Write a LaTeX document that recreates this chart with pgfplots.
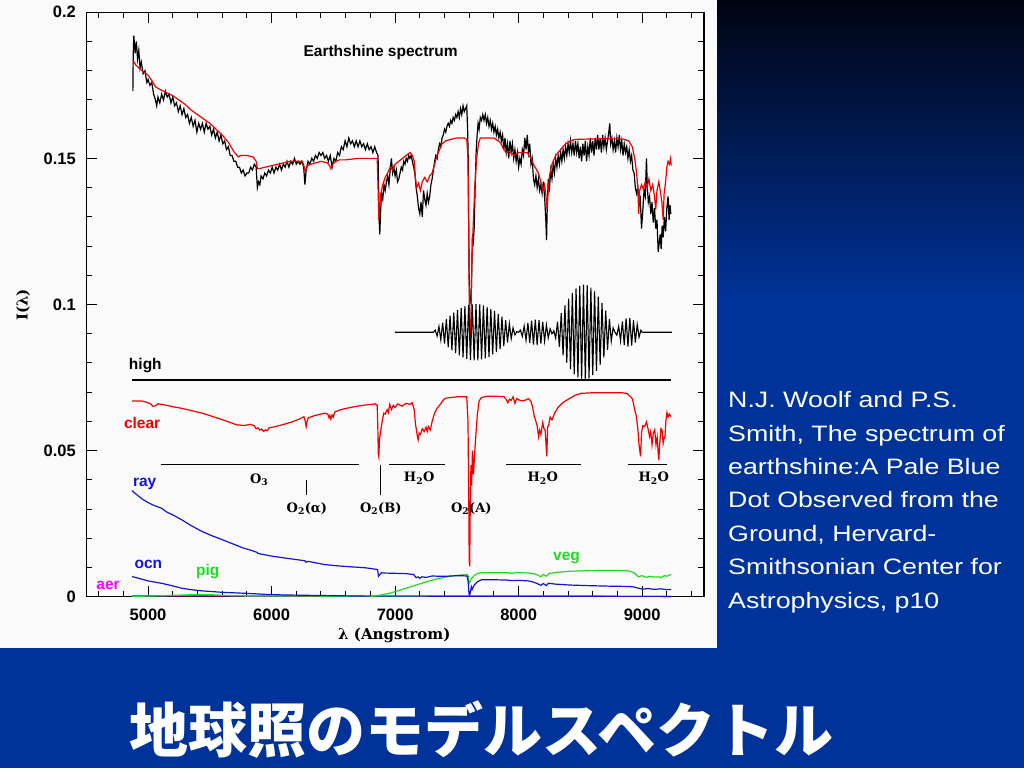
\documentclass[border=0pt]{standalone}
\usepackage{fontspec}
\usepackage{pgfplots}
\pgfplotsset{compat=1.18}
\setmainfont{Liberation Sans}
\newfontfamily\rs{Liberation Sans}[FakeStretch=1.2]
\newfontfamily\pg{DejaVu Serif}
\newfontfamily\jp{Noto Sans CJK JP}
\definecolor{bgblue}{RGB}{0,51,153}
\definecolor{bgmid}{RGB}{0,28,90}
\definecolor{bgtop}{RGB}{0,4,18}
\definecolor{panel}{RGB}{250,250,250}
\definecolor{cred}{RGB}{240,0,0}
\definecolor{cblue}{RGB}{20,20,210}
\definecolor{cgreen}{RGB}{30,220,30}
\definecolor{cmag}{RGB}{255,0,255}
\newcommand{\lf}{\fontsize{16.5}{18}\selectfont}
\newcommand{\labf}{\bfseries\fontsize{15.5}{17}\selectfont}
\newcommand{\bandf}{\pg\bfseries\fontsize{13}{15}\selectfont}
\begin{document}
\begin{tikzpicture}[x=1pt,y=1pt]
\useasboundingbox (0,0) rectangle (1024,768);
\shade[top color=bgtop, middle color=bgmid, bottom color=bgblue] (0,468) rectangle (1024,768);
\fill[bgblue] (0,0) rectangle (1024,468.5);
\fill[panel] (0,120) rectangle (717,768);
\node[anchor=base west, inner sep=0, text=white, font=\jp\bfseries\fontsize{59}{61}\selectfont] at (129,16) {地球照のモデルスペクトル};
\foreach \t [count=\i from 0] in {N.J. Woolf and P.S.,{Smith, The spectrum of},earthshine:A Pale Blue,Dot Observed from the,{Ground, Hervard-},Smithsonian Center for,{Astrophysics, p10}}{
  \node[anchor=west, inner sep=0, text=white, font=\rs\fontsize{22.3}{24}\selectfont] at (728,365-33.4*\i) {\strut\t};
}
\begin{axis}[
  scale only axis, width=617.6pt, height=584.4pt,
  at={(86.3pt,171.3pt)}, anchor=south west,
  xmin=4500, xmax=9500, ymin=0, ymax=0.2,
  xtick={5000,6000,7000,8000,9000},
  minor xtick={4600,4800,5200,5400,5600,5800,6200,6400,6600,6800,7200,7400,7600,7800,8200,8400,8600,8800,9200,9400},
  ytick={0,0.05,0.1,0.15,0.2},
  minor ytick={0.01,0.02,0.03,0.04,0.06,0.07,0.08,0.09,0.11,0.12,0.13,0.14,0.16,0.17,0.18,0.19},
  tick align=inside, major tick length=11pt, minor tick length=5.5pt,
  every tick/.style={black, line width=1pt},
  axis line style={line width=1.3pt},
  /pgf/number format/assume math mode=true,
  /pgf/number format/.cd, fixed, precision=2, 1000 sep={}, /pgfplots/.cd,
  xticklabel style={font=\bfseries\lf, yshift=-8.5pt},
  yticklabel style={font=\bfseries\lf, xshift=-7pt},
  clip=false,
]
% observed earthshine spectrum (black)
\addplot[black, line width=1.2pt] coordinates {
(4877,0.173)(4880,0.186)(4885,0.192)(4895,0.186)(4905,0.190)(4915,0.184)(4925,0.187)(4935,0.181)(4945,0.183)(4960,0.179)(4975,0.180)(4990,0.176)(5000,0.177)(5015,0.175)(5030,0.176)(5045,0.172)(5060,0.170)(5070,0.168)(5080,0.171)(5095,0.169)(5110,0.172)(5125,0.170)(5140,0.173)(5155,0.171)(5170,0.172)(5185,0.169)(5200,0.171)(5215,0.168)(5230,0.169)(5245,0.166)(5260,0.168)(5275,0.165)(5290,0.167)(5305,0.164)(5320,0.165)(5335,0.162)(5350,0.164)(5365,0.161)(5380,0.163)(5395,0.159)(5410,0.162)(5425,0.160)(5440,0.162)(5455,0.159)(5470,0.162)(5485,0.160)(5500,0.161)(5515,0.158)(5530,0.160)(5545,0.157)(5560,0.159)(5575,0.156)(5590,0.158)(5605,0.155)(5620,0.156)(5635,0.153)(5650,0.154)(5665,0.151)(5680,0.151)(5695,0.149)(5710,0.149)(5725,0.147)(5740,0.147)(5755,0.145)(5770,0.146)(5785,0.144)(5800,0.145)(5815,0.145)(5830,0.147)(5845,0.146)(5860,0.148)(5875,0.147)(5885,0.140)(5895,0.142)(5905,0.141)(5915,0.144)(5930,0.143)(5945,0.145)(5960,0.144)(5975,0.146)(5990,0.145)(6005,0.147)(6020,0.145)(6035,0.147)(6050,0.146)(6065,0.148)(6080,0.146)(6095,0.148)(6110,0.147)(6125,0.149)(6140,0.147)(6155,0.149)(6170,0.148)(6185,0.150)(6200,0.148)(6215,0.149)(6230,0.148)(6245,0.149)(6260,0.147)(6270,0.141)(6280,0.146)(6295,0.149)(6310,0.148)(6325,0.150)(6340,0.149)(6355,0.151)(6370,0.150)(6385,0.152)(6400,0.151)(6415,0.152)(6430,0.150)(6445,0.151)(6460,0.149)(6475,0.151)(6490,0.147)(6505,0.150)(6520,0.149)(6535,0.152)(6550,0.151)(6565,0.154)(6580,0.153)(6595,0.156)(6610,0.154)(6625,0.157)(6640,0.155)(6655,0.156)(6670,0.154)(6685,0.156)(6700,0.154)(6715,0.156)(6730,0.154)(6745,0.155)(6760,0.153)(6775,0.155)(6790,0.153)(6805,0.154)(6820,0.152)(6835,0.154)(6850,0.152)(6862,0.151)(6870,0.130)(6876,0.124)(6882,0.131)(6890,0.138)(6900,0.136)(6910,0.141)(6920,0.139)(6930,0.142)(6940,0.144)(6950,0.141)(6960,0.146)(6970,0.150)(6980,0.145)(6990,0.147)(7000,0.144)(7010,0.146)(7020,0.142)(7030,0.143)(7040,0.145)(7050,0.147)(7060,0.146)(7070,0.149)(7080,0.148)(7090,0.150)(7100,0.149)(7110,0.151)(7120,0.150)(7130,0.151)(7140,0.149)(7150,0.147)(7160,0.145)(7170,0.140)(7180,0.137)(7190,0.133)(7200,0.131)(7210,0.135)(7220,0.130)(7230,0.139)(7240,0.136)(7250,0.134)(7260,0.138)(7270,0.135)(7280,0.137)(7290,0.141)(7300,0.143)(7310,0.146)(7320,0.149)(7330,0.151)(7340,0.150)(7350,0.153)(7360,0.155)(7370,0.154)(7380,0.157)(7390,0.158)(7400,0.160)(7410,0.159)(7420,0.161)(7430,0.162)(7440,0.161)(7450,0.163)(7460,0.162)(7470,0.164)(7480,0.163)(7490,0.165)(7500,0.164)(7510,0.166)(7520,0.164)(7530,0.167)(7540,0.165)(7550,0.168)(7560,0.166)(7570,0.167)(7580,0.168)(7587,0.160)(7592,0.150)(7596,0.125)(7600,0.108)(7605,0.100)(7610,0.103)(7615,0.101)(7620,0.110)(7625,0.122)(7632,0.121)(7640,0.126)(7648,0.140)(7656,0.152)(7664,0.158)(7672,0.162)(7680,0.160)(7690,0.164)(7700,0.163)(7710,0.165)(7720,0.163)(7730,0.165)(7740,0.162)(7750,0.164)(7760,0.161)(7770,0.163)(7780,0.160)(7790,0.162)(7800,0.159)(7810,0.161)(7820,0.158)(7830,0.160)(7840,0.157)(7850,0.159)(7860,0.156)(7870,0.158)(7880,0.153)(7890,0.157)(7900,0.152)(7910,0.155)(7920,0.150)(7930,0.156)(7940,0.152)(7950,0.155)(7960,0.150)(7970,0.153)(7980,0.149)(7990,0.152)(8000,0.147)(8010,0.150)(8020,0.148)(8030,0.153)(8040,0.151)(8050,0.157)(8060,0.153)(8070,0.158)(8080,0.152)(8090,0.155)(8100,0.148)(8110,0.150)(8120,0.143)(8130,0.141)(8140,0.144)(8150,0.140)(8160,0.143)(8170,0.139)(8180,0.141)(8190,0.138)(8200,0.142)(8210,0.137)(8220,0.129)(8226,0.122)(8232,0.134)(8240,0.143)(8250,0.140)(8260,0.146)(8270,0.143)(8280,0.148)(8290,0.145)(8300,0.150)(8310,0.147)(8320,0.151)(8330,0.148)(8340,0.152)(8350,0.149)(8360,0.153)(8370,0.150)(8380,0.154)(8390,0.151)(8400,0.155)(8410,0.152)(8420,0.156)(8430,0.152)(8440,0.155)(8450,0.151)(8460,0.156)(8470,0.152)(8480,0.155)(8490,0.150)(8500,0.154)(8510,0.149)(8520,0.155)(8530,0.151)(8540,0.156)(8550,0.149)(8560,0.154)(8570,0.151)(8580,0.157)(8590,0.152)(8600,0.156)(8610,0.151)(8620,0.157)(8630,0.153)(8640,0.158)(8650,0.153)(8660,0.157)(8670,0.152)(8680,0.158)(8690,0.154)(8700,0.157)(8710,0.153)(8720,0.156)(8730,0.159)(8738,0.162)(8745,0.155)(8755,0.157)(8765,0.153)(8775,0.156)(8785,0.152)(8795,0.157)(8805,0.154)(8815,0.158)(8825,0.153)(8835,0.156)(8845,0.151)(8855,0.155)(8865,0.152)(8875,0.154)(8885,0.150)(8895,0.153)(8905,0.149)(8915,0.151)(8925,0.146)(8935,0.145)(8945,0.140)(8955,0.138)(8965,0.140)(8975,0.134)(8985,0.136)(8995,0.126)(9005,0.132)(9015,0.139)(9025,0.137)(9035,0.150)(9042,0.140)(9050,0.135)(9060,0.137)(9070,0.131)(9080,0.135)(9090,0.128)(9100,0.133)(9110,0.126)(9120,0.129)(9130,0.118)(9138,0.121)(9146,0.124)(9154,0.119)(9162,0.127)(9170,0.123)(9180,0.130)(9190,0.125)(9200,0.133)(9210,0.137)(9218,0.129)(9226,0.134)(9232,0.131)
};
% model (red)
\addplot[cred, line width=1.2pt] coordinates {
(4877,0.1837)(4900,0.182)(4950,0.180)(5000,0.1785)(5040,0.176)(5060,0.1745)(5100,0.1735)(5150,0.1725)(5200,0.1715)(5250,0.170)(5300,0.1685)(5350,0.1665)(5400,0.165)(5450,0.1635)(5500,0.162)(5550,0.160)(5600,0.158)(5650,0.1555)(5700,0.152)(5730,0.1505)(5750,0.151)(5800,0.151)(5850,0.1505)(5875,0.149)(5885,0.1465)(5900,0.1465)(5950,0.147)(6000,0.1475)(6050,0.148)(6100,0.1485)(6150,0.149)(6200,0.149)(6250,0.149)(6265,0.147)(6275,0.1455)(6290,0.1475)(6320,0.148)(6360,0.1485)(6400,0.149)(6450,0.1485)(6470,0.1475)(6480,0.1465)(6495,0.148)(6520,0.149)(6550,0.1495)(6600,0.1495)(6700,0.150)(6800,0.150)(6855,0.150)(6862,0.140)(6868,0.129)(6874,0.133)(6885,0.138)(6900,0.141)(6920,0.1435)(6940,0.145)(6960,0.147)(6980,0.146)(7000,0.148)(7030,0.149)(7060,0.150)(7090,0.151)(7120,0.152)(7140,0.151)(7155,0.149)(7165,0.143)(7175,0.140)(7190,0.1415)(7205,0.139)(7220,0.142)(7240,0.1435)(7260,0.142)(7280,0.144)(7300,0.145)(7320,0.148)(7340,0.151)(7360,0.153)(7380,0.155)(7410,0.156)(7450,0.1565)(7500,0.157)(7560,0.157)(7580,0.1565)(7590,0.150)(7597,0.120)(7602,0.092)(7608,0.089)(7614,0.095)(7620,0.112)(7630,0.125)(7645,0.140)(7660,0.150)(7675,0.155)(7690,0.157)(7750,0.157)(7800,0.157)(7850,0.1555)(7880,0.153)(7900,0.152)(7930,0.1525)(7960,0.151)(8000,0.152)(8040,0.152)(8070,0.152)(8100,0.150)(8120,0.148)(8140,0.1465)(8160,0.145)(8180,0.142)(8195,0.139)(8210,0.141)(8222,0.137)(8230,0.1325)(8238,0.138)(8250,0.144)(8270,0.148)(8300,0.151)(8340,0.153)(8380,0.155)(8420,0.156)(8460,0.1565)(8550,0.1566)(8650,0.1567)(8750,0.1567)(8850,0.1566)(8890,0.156)(8920,0.154)(8940,0.150)(8955,0.145)(8965,0.140)(8972,0.131)(8980,0.139)(8995,0.141)(9010,0.1395)(9025,0.142)(9040,0.140)(9055,0.143)(9070,0.139)(9085,0.141)(9100,0.137)(9110,0.1325)(9120,0.139)(9135,0.142)(9148,0.1385)(9160,0.135)(9170,0.129)(9178,0.138)(9190,0.142)(9200,0.147)(9210,0.149)(9220,0.148)(9230,0.150)(9235,0.1475)
};
% high-resolution residual (black oscillation)
\addplot[black, line width=1.1pt] coordinates {
(7000,0.0905)(7310,0.0905)(7325,0.0912)(7340,0.0892)(7355,0.0925)(7370,0.0879)(7385,0.0938)(7400,0.0866)(7415,0.0950)(7430,0.0854)(7445,0.0962)(7460,0.0843)(7475,0.0972)(7490,0.0834)(7505,0.0981)(7520,0.0826)(7535,0.0988)(7550,0.0819)(7565,0.0994)(7580,0.0814)(7595,0.0998)(7610,0.0810)(7625,0.1000)(7640,0.0809)(7655,0.1001)(7670,0.0809)(7685,0.1000)(7700,0.0812)(7715,0.0997)(7730,0.0816)(7745,0.0992)(7760,0.0821)(7775,0.0985)(7790,0.0829)(7805,0.0978)(7820,0.0837)(7835,0.0968)(7850,0.0847)(7865,0.0958)(7880,0.0858)(7895,0.0946)(7910,0.0870)(7925,0.0934)(7940,0.0883)(7955,0.0920)(7970,0.0896)(7985,0.0907)(8000,0.0905)(8015,0.0912)(8030,0.0891)(8045,0.0926)(8060,0.0878)(8075,0.0937)(8090,0.0869)(8105,0.0945)(8120,0.0863)(8135,0.0948)(8150,0.0862)(8165,0.0946)(8180,0.0866)(8195,0.0940)(8210,0.0875)(8225,0.0930)(8240,0.0886)(8255,0.0917)(8270,0.0900)(8280,0.0905)(8285,0.0910)(8300,0.0885)(8315,0.0941)(8330,0.0855)(8345,0.0970)(8360,0.0826)(8375,0.0997)(8390,0.0801)(8405,0.1020)(8420,0.0779)(8435,0.1040)(8450,0.0762)(8465,0.1055)(8480,0.0750)(8495,0.1064)(8510,0.0743)(8525,0.1068)(8540,0.0742)(8555,0.1066)(8570,0.0747)(8585,0.1058)(8600,0.0758)(8615,0.1045)(8630,0.0773)(8645,0.1027)(8660,0.0793)(8675,0.1005)(8690,0.0818)(8705,0.0979)(8720,0.0845)(8735,0.0951)(8750,0.0875)(8765,0.0920)(8780,0.0905)(8795,0.0895)(8810,0.0925)(8825,0.0876)(8840,0.0942)(8855,0.0862)(8870,0.0952)(8885,0.0856)(8900,0.0954)(8915,0.0859)(8930,0.0946)(8945,0.0870)(8960,0.0932)(8975,0.0888)(8990,0.0912)(9000,0.0905)(9240,0.0905)
};
% high (flat)
\addplot[black, line width=1.3pt] coordinates {(4870,0.0742)(9235,0.0742)};
% clear (red)
\addplot[cred, line width=1.2pt] coordinates {
(4870,0.067)(4950,0.067)(4990,0.0665)(5020,0.066)(5040,0.0652)(5060,0.0653)(5080,0.066)(5110,0.0658)(5150,0.0655)(5200,0.065)(5270,0.0645)(5350,0.0637)(5440,0.0628)(5520,0.0617)(5600,0.0606)(5660,0.0597)(5720,0.0588)(5780,0.0586)(5830,0.059)(5860,0.0585)(5875,0.0575)(5890,0.0578)(5905,0.0570)(5920,0.0574)(5935,0.0566)(5950,0.0571)(5965,0.0568)(5980,0.0578)(6030,0.0582)(6100,0.059)(6164,0.0598)(6220,0.0607)(6262,0.0616)(6272,0.0602)(6280,0.0582)(6288,0.060)(6296,0.0612)(6350,0.062)(6430,0.0628)(6455,0.0625)(6465,0.0612)(6472,0.062)(6480,0.0608)(6490,0.0622)(6500,0.0615)(6511,0.0632)(6560,0.064)(6620,0.0646)(6693,0.0652)(6760,0.0656)(6841,0.066)(6855,0.0655)(6860,0.058)(6864,0.049)(6868,0.048)(6874,0.054)(6885,0.0571)(6895,0.060)(6908,0.0628)(6920,0.0625)(6935,0.0640)(6945,0.063)(6957,0.0658)(6970,0.064)(6985,0.0655)(7000,0.0648)(7020,0.066)(7056,0.0652)(7090,0.0662)(7120,0.0658)(7138,0.0664)(7155,0.064)(7165,0.059)(7171,0.0575)(7180,0.055)(7187,0.0537)(7195,0.056)(7205,0.0555)(7220,0.0575)(7235,0.0565)(7250,0.058)(7260,0.0565)(7270,0.0582)(7285,0.0570)(7300,0.060)(7319,0.0628)(7340,0.0645)(7369,0.066)(7395,0.0676)(7418,0.068)(7500,0.0684)(7580,0.0684)(7590,0.060)(7596,0.035)(7600,0.012)(7604,0.0104)(7608,0.030)(7614,0.045)(7620,0.038)(7626,0.050)(7635,0.042)(7645,0.050)(7655,0.056)(7665,0.062)(7680,0.067)(7700,0.0682)(7750,0.0686)(7800,0.0686)(7880,0.0685)(7900,0.0675)(7913,0.0664)(7925,0.0676)(7940,0.0672)(7955,0.0684)(7970,0.0662)(7985,0.0678)(8010,0.0672)(8040,0.0670)(8080,0.0678)(8100,0.0668)(8113,0.0650)(8125,0.0620)(8140,0.0600)(8150,0.0585)(8162,0.0547)(8170,0.057)(8180,0.0555)(8195,0.0596)(8205,0.0575)(8215,0.0570)(8222,0.0520)(8228,0.0480)(8235,0.058)(8244,0.0588)(8255,0.0615)(8270,0.0605)(8293,0.063)(8320,0.0648)(8360,0.0665)(8410,0.0678)(8460,0.0690)(8509,0.0696)(8600,0.0698)(8700,0.0698)(8839,0.0698)(8880,0.0695)(8905,0.0685)(8921,0.0678)(8935,0.065)(8945,0.0630)(8954,0.0616)(8965,0.0575)(8975,0.052)(8987,0.0480)(8995,0.056)(9005,0.0585)(9020,0.0582)(9035,0.0598)(9050,0.057)(9060,0.0548)(9069,0.0565)(9080,0.0520)(9090,0.0560)(9102,0.0571)(9112,0.0520)(9122,0.0545)(9130,0.0490)(9135,0.0468)(9142,0.052)(9152,0.0575)(9161,0.0571)(9170,0.0525)(9178,0.0545)(9184,0.0543)(9192,0.0600)(9201,0.0630)(9210,0.0615)(9220,0.0625)(9234,0.0616)
};
% absorption band markers
\addplot[black, line width=1.1pt] coordinates {(5101,0.0451)(6710,0.0451)};
\addplot[black, line width=1.1pt] coordinates {(6947,0.0451)(7403,0.0451)};
\addplot[black, line width=1.1pt] coordinates {(7898,0.0451)(8502,0.0451)};
\addplot[black, line width=1.1pt] coordinates {(8889,0.0451)(9203,0.0451)};
\addplot[black, line width=1.1pt] coordinates {(6884,0.0451)(6884,0.0349)};
\addplot[black, line width=1.1pt] coordinates {(6286,0.0400)(6286,0.0349)};
% aer (magenta)
\addplot[cmag, line width=1.2pt] coordinates {(4870,0.0003)(5500,0.0003)(6500,0.0002)(9234,0.0001)};
% pig (green)
\addplot[cgreen, line width=1.2pt] coordinates {(4870,0.0001)(5100,0.0003)(5300,0.0006)(5450,0.0008)(5550,0.0006)(5700,0.0003)(6000,0.0002)(9234,0.0001)};
% ocn (blue)
\addplot[cblue, line width=1.2pt] coordinates {(4870,0.0069)(4950,0.0060)(5000,0.0054)(5108,0.0046)(5200,0.0037)(5273,0.0029)(5350,0.0024)(5438,0.0020)(5600,0.0015)(5768,0.0012)(5950,0.0008)(6098,0.0006)(6400,0.0004)(6759,0.0002)(7000,0.0002)(9234,0.0001)};
% veg (green)
\addplot[cgreen, line width=1.2pt] coordinates {(6800,0)(6825,0.0002)(6900,0.0007)(6957,0.0012)(7020,0.0020)(7089,0.0029)(7170,0.0040)(7253,0.0051)(7330,0.0060)(7418,0.0068)(7500,0.0073)(7583,0.0076)(7592,0.0070)(7598,0.0046)(7606,0.0050)(7615,0.0060)(7625,0.0065)(7640,0.0072)(7670,0.0080)(7700,0.0082)(7800,0.0082)(7913,0.0082)(7950,0.0080)(7980,0.0083)(8080,0.0081)(8130,0.0078)(8160,0.0073)(8179,0.0068)(8200,0.0076)(8225,0.0070)(8244,0.0079)(8300,0.0083)(8410,0.0087)(8550,0.0089)(8740,0.0090)(8870,0.0089)(8904,0.0087)(8940,0.0080)(8970,0.0068)(9000,0.0072)(9036,0.0066)(9060,0.0070)(9100,0.0067)(9135,0.0068)(9150,0.0065)(9180,0.0072)(9200,0.0070)(9234,0.0076)};
% ray (blue)
\addplot[cblue, line width=1.2pt] coordinates {(4870,0.0363)(4900,0.0352)(4950,0.0335)(5000,0.0322)(5050,0.0312)(5108,0.0303)(5150,0.0290)(5200,0.0280)(5273,0.0263)(5350,0.0243)(5438,0.0223)(5520,0.0208)(5603,0.0195)(5690,0.0180)(5768,0.0167)(5840,0.0158)(5880,0.0152)(5890,0.0148)(5950,0.0143)(6000,0.0139)(6098,0.0133)(6200,0.0127)(6270,0.0123)(6280,0.0118)(6295,0.0121)(6429,0.0110)(6550,0.0105)(6650,0.0102)(6759,0.0099)(6858,0.0093)(6866,0.0070)(6875,0.0075)(6890,0.0082)(6908,0.0081)(7000,0.0080)(7089,0.0079)(7150,0.0076)(7171,0.0065)(7185,0.0068)(7200,0.0063)(7215,0.0068)(7253,0.0066)(7300,0.0071)(7350,0.0070)(7418,0.0070)(7500,0.0072)(7583,0.0071)(7592,0.0050)(7598,0.0010)(7603,0.0005)(7610,0.0015)(7617,0.0034)(7624,0.0025)(7640,0.0040)(7667,0.0051)(7700,0.0058)(7800,0.0058)(7900,0.0057)(7950,0.0055)(8000,0.0056)(8080,0.0054)(8120,0.0050)(8150,0.0045)(8179,0.0039)(8200,0.0045)(8225,0.0038)(8240,0.0046)(8300,0.0043)(8410,0.0040)(8550,0.0038)(8740,0.0036)(8900,0.0035)(8937,0.0033)(8960,0.0030)(9003,0.0026)(9050,0.0028)(9100,0.0025)(9150,0.0027)(9200,0.0024)(9234,0.0025)};
% labels
\node[font=\labf] at (axis cs:6883,0.1862) {Earthshine spectrum};
\node[font=\labf, anchor=base west, inner sep=0] at (axis cs:4844,0.0779) {high};
\node[font=\labf, anchor=base west, inner sep=0, text=cred] at (axis cs:4804,0.0575) {clear};
\node[font=\labf, anchor=base west, inner sep=0, text=cblue] at (axis cs:4877,0.0377) {ray};
\node[font=\labf, anchor=base west, inner sep=0, text=cblue] at (axis cs:4889,0.0095) {ocn};
\node[font=\labf, anchor=base west, inner sep=0, text=cgreen] at (axis cs:5388,0.0073) {pig};
\node[font=\labf, anchor=base west, inner sep=0, text=cgreen] at (axis cs:8278,0.0124) {veg};
\node[font=\labf, anchor=base west, inner sep=0, text=cmag] at (axis cs:4580,0.0026) {aer};
\node[font=\bandf] at (axis cs:5900,0.0400) {O\textsubscript{3}};
\node[font=\bandf] at (axis cs:7195,0.0406) {H\textsubscript{2}O};
\node[font=\bandf] at (axis cs:8196,0.0406) {H\textsubscript{2}O};
\node[font=\bandf] at (axis cs:9094,0.0406) {H\textsubscript{2}O};
\node[font=\bandf] at (axis cs:6286,0.0301) {O\textsubscript{2}(α)};
\node[font=\bandf] at (axis cs:6884,0.0301) {O\textsubscript{2}(B)};
\node[font=\bandf] at (axis cs:7617,0.0301) {O\textsubscript{2}(A)};
\end{axis}
\node[font=\pg\bfseries\fontsize{15}{16}\selectfont] at (394.3,133) {λ (Angstrom)};
\node[font=\pg\bfseries\fontsize{15}{16}\selectfont, rotate=90] at (23,463) {I(λ)};
\end{tikzpicture}
\end{document}
